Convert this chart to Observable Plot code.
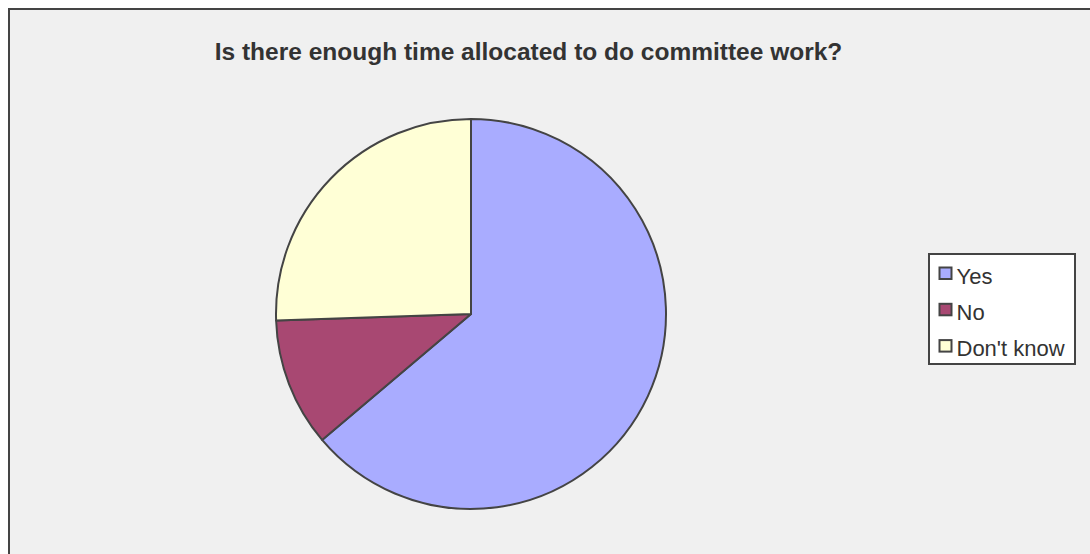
<!DOCTYPE html>
<html>
<head>
<meta charset="utf-8">
<script src="https://cdn.jsdelivr.net/npm/d3@7"></script>
<script src="https://cdn.jsdelivr.net/npm/@observablehq/plot@0.6"></script>
<style>
  html, body { margin: 0; padding: 0; background: #ffffff; overflow: hidden; }
  #wrap { position: relative; width: 1090px; height: 554px; }
  #frame { position: absolute; left: 8px; top: 8px; width: 1100px; height: 560px;
           border: 2px solid #444444; background: #f0f0f0; }
  #chart { position: absolute; left: 0; top: 0; }
</style>
</head>
<body>
<div id="wrap">
  <div id="frame"></div>
  <div id="chart"></div>
</div>
<script>
const title = "Is there enough time allocated to do committee work?";
const categories = ["Yes", "No", "Don't know"];
const counts = [30, 5, 12];
const colors = ["#a9acff", "#a84872", "#ffffd6"];

const data = categories.map((c, i) => ({category: c, value: counts[i], color: colors[i]}));

const W = 1090, H = 554;
const cx = 471, cy = 314, R = 195;

const pie = d3.pie().sort(null).value(d => d.value)(data);
const arc = d3.arc().innerRadius(0).outerRadius(R);

const pieMark = (index, scales, values, dimensions, context) => {
  const g = d3.create("svg:g").attr("transform", `translate(${cx},${cy})`);
  g.selectAll("path")
    .data(pie)
    .join("path")
    .attr("d", arc)
    .attr("fill", d => d.data.color)
    .attr("stroke", "#444444")
    .attr("stroke-width", 2)
    .attr("stroke-linejoin", "round");
  return g.node();
};

const legendX = 929, legendY = 254;
const legendData = data.map((d, i) => ({...d, i}));

const chart = Plot.plot({
  width: W,
  height: H,
  margin: 0,
  x: {type: "identity", axis: null},
  y: {type: "identity", axis: null},
  style: {background: "transparent", fontFamily: "'Liberation Sans', Arial, sans-serif", overflow: "visible"},
  marks: [
    pieMark,
    Plot.text([title], {
      x: 528, y: 51.5, text: d => d,
      fontSize: 24.5, fontWeight: "bold", fill: "#333333",
      textAnchor: "middle", lineAnchor: "middle",
      fontFamily: "'Liberation Sans', Arial, sans-serif"
    }),
    Plot.rect([0], {x1: legendX, x2: legendX + 146, y1: legendY, y2: legendY + 110,
      fill: "#ffffff", stroke: "#444444", strokeWidth: 2}),
    Plot.rect(legendData, {
      x1: 939.5, x2: 951.5,
      y1: d => 267.5 + d.i * 36.3, y2: d => 279 + d.i * 36.3,
      fill: "color", stroke: "#444444", strokeWidth: 2
    }),
    Plot.text(legendData, {
      x: 956, y: d => 276 + d.i * 36, text: "category",
      fontSize: 22, fill: "#333333", textAnchor: "start", lineAnchor: "middle",
      fontFamily: "'Liberation Sans', Arial, sans-serif"
    })
  ]
});
document.getElementById("chart").appendChild(chart);
</script>
</body>
</html>
